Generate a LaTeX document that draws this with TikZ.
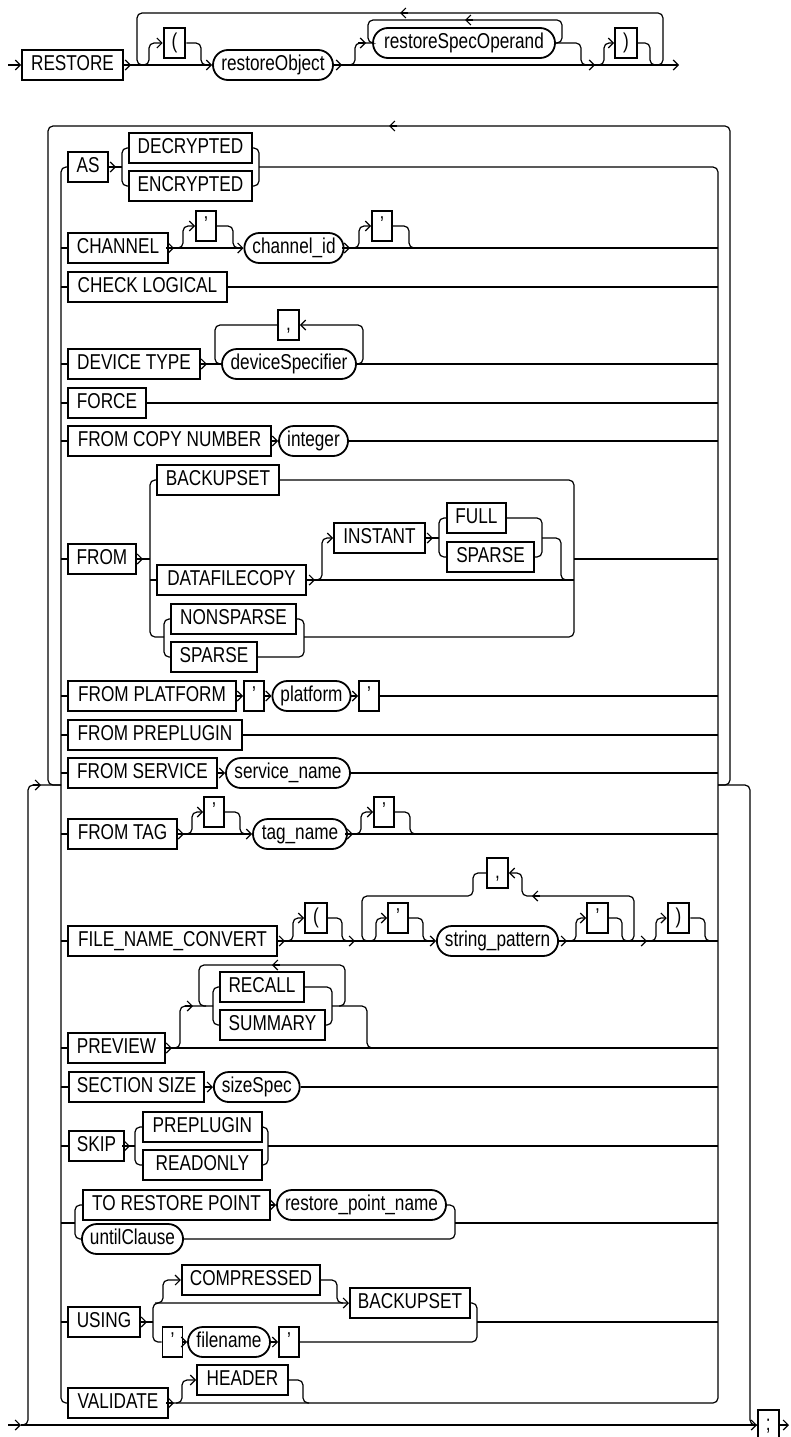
\documentclass[tikz,border=0pt]{standalone}
\usepackage{fontspec}
\setmainfont{Liberation Sans}[FakeStretch=0.8]
\usetikzlibrary{arrows.meta}
\newcommand\chR[2]{\draw[ln,->] (#1-8,#2) -- (#1,#2);}
\newcommand\chL[2]{\draw[ln,->] (#1+8,#2) -- (#1,#2);}
\begin{document}
\begin{tikzpicture}[x=1pt,y=-1pt,
  ln/.style={line width=1.2pt,rounded corners=5pt},
  >={Straight Barb[length=5pt,width=10pt]},
  kw/.style={draw,line width=1.8pt,minimum height=30pt,inner xsep=8pt,inner ysep=0pt,
     font=\fontsize{21.5}{22}\selectfont,text height=15pt,text depth=4pt},
  ident/.style={kw,rounded corners=15pt}]
\fill[white] (0,0) rectangle (790,1437);
\useasboundingbox (0,0) rectangle (790,1437);

% ---------------- row 0 ----------------
\node[kw,minimum width=101pt] (restore) at (72.5,65) {RESTORE};
\node[kw,minimum width=21pt] (lp0) at (174.5,43) {(};
\node[ident,minimum width=120pt] (robj) at (273,65) {restoreObject};
\node[ident,minimum width=182pt] (rso) at (464,43) {restoreSpecOperand};
\node[kw,minimum width=22pt] (rp0) at (626,43) {)};
\coordinate (in0) at (8,65);
\coordinate (out0) at (679,65);
\draw[ln,->] (in0) -- (restore.west);
\draw[ln,->] (restore.east) -- (robj.west);
\chR{131}{65}
\draw[ln,->] (robj.east) -- (out0);
\chR{342}{65}
\chR{595}{65}
\draw[ln,->] (139,65) -| (149,43) -- (lp0.west);
\draw[ln] (lp0.east) -| (201,65) -- (207,65);
\draw[ln] (651,65) -| (663,13) -| (137,65) -- (144,65);
\chL{400}{13}
\draw[ln] (345,65) -| (355,43) -- (rso.west);
\chR{366}{43}
\draw[ln] (rso.east) -| (562,20) -| (368,43) -- (rso.west);
\chL{465}{20}
\draw[ln] (rso.east) -| (581,65) -- (588,65);
\draw[ln,->] (597,65) -| (604,43) -- (rp0.west);
\draw[ln] (rp0.east) -| (650,65) -- (656,65);

% ---------------- options block ----------------
\node[kw,minimum width=40pt] (as) at (88,167) {AS};
\node[kw,minimum width=123pt] (decr) at (190.5,148) {DECRYPTED};
\node[kw,minimum width=123pt] (encr) at (190.5,186) {ENCRYPTED};
\node[kw,minimum width=100pt] (valid) at (118,1403) {VALIDATE};
\node[kw,anchor=west] (semi) at (757,1425) {;};

% rails
\draw[ln] (as.west) -| (61,1403) -- (valid.west);
\draw[ln] (259,167) -| (718,1403) -- (valid.east);
% big loop
\draw[ln] (718,785) -| (730,126) -| (48,785) -- (61,785);
\chL{389}{126}
% entry / exit
\coordinate (in1) at (8,1425);
\coordinate (out1) at (789,1425);
\draw[ln,->] (in1) -- (21,1425);
\draw[ln,->] (21,1425) -- (semi.west);
\draw[ln] (21,1425) -| (28,785) -- (61,785);
\chR{41}{785}
\draw[ln] (718,785) -| (750,1425) -- (semi.west);
\draw[ln,->] (semi.east) -- (out1);

% AS
\draw[ln] (as.east) -- (122,167);
\chR{116}{167}
\draw[ln] (decr.west) -| (122,186) -- (encr.west);
\draw[ln] (decr.east) -| (259,186) -- (encr.east);

% CHANNEL
\node[kw,minimum width=100pt] (chan) at (118,248) {CHANNEL};
\node[kw,minimum width=20pt] (q1) at (206,226) {'};
\node[ident,minimum width=98pt] (chid) at (294,248) {channel\_id};
\node[kw,minimum width=20pt] (q2) at (382,226) {'};
\draw[ln] (61,248) -- (chan.west);
\draw[ln,->] (chan.east) -- (chid.west);
\chR{174}{248}
\draw[ln,->] (176,248) -| (183,226) -- (q1.west);
\draw[ln] (q1.east) -| (233,248) -- (239,248);
\draw[ln] (chid.east) -- (718,248);
\chR{350}{248}
\draw[ln,->] (352,248) -| (359,226) -- (q2.west);
\draw[ln] (q2.east) -| (409,248) -- (415,248);

% CHECK LOGICAL
\node[kw,minimum width=159pt] (chk) at (147.5,287) {CHECK LOGICAL};
\draw[ln] (61,287) -- (chk.west);
\draw[ln] (chk.east) -- (718,287);

% DEVICE TYPE
\node[kw,minimum width=132pt] (dev) at (134,364) {DEVICE TYPE};
\node[ident,minimum width=134pt] (dspec) at (289,364) {deviceSpecifier};
\node[kw,minimum width=21pt] (cm1) at (288.5,325) {,};
\draw[ln] (61,364) -- (dev.west);
\draw[ln] (dev.east) -- (dspec.west);
\chR{207}{364}
\draw[ln] (dspec.east) -- (718,364);
\draw[ln,->] (dspec.east) -| (363,325) -- (cm1.east);
\draw[ln] (cm1.west) -| (215,364) -- (dspec.west);

% FORCE
\node[kw,minimum width=78pt] (force) at (107,403) {FORCE};
\draw[ln] (61,403) -- (force.west);
\draw[ln] (force.east) -- (718,403);

% FROM COPY NUMBER
\node[kw,minimum width=203pt] (fcn) at (169.5,441) {FROM COPY NUMBER};
\node[ident,minimum width=69pt] (intg) at (313.5,441) {integer};
\draw[ln] (61,441) -- (fcn.west);
\draw[ln,->] (fcn.east) -- (intg.west);
\draw[ln] (intg.east) -- (718,441);

% FROM
\node[kw,minimum width=68pt] (from) at (102,559) {FROM};
\node[kw,minimum width=122pt] (bkup) at (218,480) {BACKUPSET};
\node[kw,minimum width=149pt] (dfc) at (231.5,580) {DATAFILECOPY};
\node[kw,minimum width=91pt] (inst) at (379.5,538) {INSTANT};
\node[kw,minimum width=59pt] (full) at (476.5,518) {FULL};
\node[kw,minimum width=87pt] (sp1) at (490.5,557) {SPARSE};
\node[kw,minimum width=125pt] (nsp) at (233.5,619) {NONSPARSE};
\node[kw,minimum width=86pt] (sp2) at (214,657) {SPARSE};
\draw[ln] (61,559) -- (from.west);
\draw[ln] (from.east) -- (150,559);
\chR{143}{559}
\draw[ln] (bkup.west) -| (150,637) -- (164,637);
\draw[ln] (bkup.east) -| (574,637) -- (304,637);
\draw[ln] (150,580) -- (dfc.west);
\draw[ln] (dfc.east) -- (574,580);
\chR{315}{580}
\draw[ln,->] (317,580) -| (322,538) -- (inst.west);
\draw[ln] (inst.east) -- (439,538);
\chR{433}{538}
\draw[ln] (full.west) -| (439,557) -- (sp1.west);
\draw[ln] (full.east) -| (542,557) -- (sp1.east);
\draw[ln] (542,538) -| (561,580) -- (568,580);
\draw[ln] (nsp.west) -| (164,657) -- (sp2.west);
\draw[ln] (nsp.east) -| (304,657) -- (sp2.east);
\draw[ln] (574,559) -- (718,559);

% FROM PLATFORM
\node[kw,minimum width=168pt] (fplat) at (152,696) {FROM PLATFORM};
\node[kw,minimum width=20pt] (q3) at (254,696) {'};
\node[ident,minimum width=77pt] (plat) at (311.5,696) {platform};
\node[kw,minimum width=20pt] (q4) at (369,696) {'};
\draw[ln] (61,696) -- (fplat.west);
\draw[ln,->] (fplat.east) -- (q3.west);
\draw[ln,->] (q3.east) -- (plat.west);
\draw[ln,->] (plat.east) -- (q4.west);
\draw[ln] (q4.east) -- (718,696);

% FROM PREPLUGIN
\node[kw,minimum width=174pt] (fpre) at (155,735) {FROM PREPLUGIN};
\draw[ln] (61,735) -- (fpre.west);
\draw[ln] (fpre.east) -- (718,735);

% FROM SERVICE
\node[kw,minimum width=149pt] (fserv) at (142.5,773) {FROM SERVICE};
\node[ident,minimum width=124pt] (sname) at (288,773) {service\_name};
\draw[ln] (61,773) -- (fserv.west);
\draw[ln,->] (fserv.east) -- (sname.west);
\draw[ln] (sname.east) -- (718,773);

% FROM TAG
\node[kw,minimum width=109pt] (ftag) at (122.5,834) {FROM TAG};
\node[kw,minimum width=20pt] (q5) at (214,812) {'};
\node[ident,minimum width=94pt] (tname) at (300,834) {tag\_name};
\node[kw,minimum width=20pt] (q6) at (384,812) {'};
\draw[ln] (61,834) -- (ftag.west);
\draw[ln,->] (ftag.east) -- (tname.west);
\chR{184}{834}
\draw[ln,->] (186,834) -| (192,812) -- (q5.west);
\draw[ln] (q5.east) -| (240,834) -- (246,834);
\draw[ln] (tname.east) -- (718,834);
\chR{353}{834}
\draw[ln,->] (355,834) -| (361,812) -- (q6.west);
\draw[ln] (q6.east) -| (410,834) -- (416,834);

% FILE_NAME_CONVERT
\node[kw,minimum width=209pt] (fnc) at (172.5,941) {FILE\_NAME\_CONVERT};
\node[kw,minimum width=22pt] (lp1) at (316,918) {(};
\node[kw,minimum width=21pt] (cm2) at (497.5,873) {,};
\node[kw,minimum width=20pt] (q7) at (398,918) {'};
\node[ident,minimum width=121pt] (spat) at (497.5,941) {string\_pattern};
\node[kw,minimum width=21pt] (q8) at (597.5,918) {'};
\node[kw,minimum width=21pt] (rp1) at (678.5,918) {)};
\draw[ln] (61,941) -- (fnc.west);
\draw[ln,->] (fnc.east) -- (spat.west);
\chR{285}{941}
\chR{355}{941}
\draw[ln,->] (287,941) -| (293,918) -- (lp1.west);
\draw[ln] (lp1.east) -| (342,941) -- (348,941);
\draw[ln,->] (626,941) -| (634,896) -| (522,873) -- (cm2.east);
\chL{532}{896}
\draw[ln] (cm2.west) -| (473,896) -| (362,941) -- (370,941);
\draw[ln,->] (368,941) -| (376,918) -- (q7.west);
\draw[ln] (q7.east) -| (423,941) -- (430,941);
\draw[ln] (spat.east) -- (718,941);
\chR{567}{941}
\chR{647}{941}
\draw[ln,->] (569,941) -| (576,918) -- (q8.west);
\draw[ln] (q8.east) -| (622,941) -- (628,941);
\draw[ln,->] (649,941) -| (656,918) -- (rp1.west);
\draw[ln] (rp1.east) -| (705,941) -- (711,941);

% PREVIEW
\node[kw,minimum width=97pt] (prev) at (116.5,1048) {PREVIEW};
\node[kw,minimum width=84pt] (recall) at (262,987) {RECALL};
\node[kw,minimum width=105pt] (summ) at (272.5,1025) {SUMMARY};
\draw[ln] (61,1048) -- (prev.west);
\draw[ln] (prev.east) -- (718,1048);
\chR{172}{1048}
\draw[ln] (174,1048) -| (180,1006) -- (213,1006);
\chR{193}{1006}
\draw[ln] (recall.west) -| (213,1025) -- (summ.west);
\draw[ln] (recall.east) -| (332,1025) -- (summ.east);
\draw[ln] (332,1006) -| (367,1048) -- (374,1048);
\draw[ln] (339,1006) -| (345,965) -| (199,1006) -- (206,1006);
\chL{272}{965}

% SECTION SIZE
\node[kw,anchor=west] (secsz) at (68,1087) {SECTION SIZE};
\node[ident,anchor=west] (sizesp) at (213,1087) {sizeSpec};
\draw[ln] (61,1087) -- (secsz.west);
\draw[ln,->] (secsz.east) -- (sizesp.west);
\draw[ln] (sizesp.east) -- (718,1087);

% SKIP
\node[kw,anchor=west] (skip) at (68,1146) {SKIP};
\node[kw,anchor=west,minimum width=119pt] (pplug) at (142,1127) {PREPLUGIN};
\node[kw,anchor=west,minimum width=119pt] (ronly) at (142,1165) {READONLY};
\draw[ln] (61,1146) -- (skip.west);
\draw[ln] (skip.east) -- (135,1146);
\chR{130}{1146}
\draw[ln] (pplug.west) -| (135,1165) -- (ronly.west);
\draw[ln] (pplug.east) -| (268,1165) -- (ronly.east);
\draw[ln] (268,1146) -- (718,1146);

% TO RESTORE POINT
\node[kw,minimum width=187pt] (trp) at (176.5,1205) {TO RESTORE POINT};
\node[ident,minimum width=167pt] (rpn) at (361.5,1205) {restore\_point\_name};
\node[ident,minimum width=101pt] (until) at (132.5,1239) {untilClause};
\draw[ln] (61,1223) -- (75,1223);
\draw[ln] (trp.west) -| (75,1239) -- (until.west);
\draw[ln,->] (trp.east) -- (rpn.west);
\draw[ln] (rpn.east) -| (455,1239) -- (until.east);
\draw[ln] (455,1223) -- (718,1223);

% USING
\node[kw,minimum width=72pt] (using) at (104,1322) {USING};
\node[kw,minimum width=138pt] (comp) at (251,1280) {COMPRESSED};
\node[kw,minimum width=120pt] (bk2) at (410,1303) {BACKUPSET};
\node[kw,minimum width=19pt] (q9) at (172.5,1342) {'};
\node[ident,minimum width=82pt] (fname) at (229,1342) {filename};
\node[kw,minimum width=18pt] (q10) at (289,1342) {'};
\draw[ln] (61,1322) -- (using.west);
\draw[ln] (using.east) -- (153,1322);
\chR{147}{1322}
\draw[ln,->] (153,1322) |- (bk2.west);
\draw[ln] (153,1322) |- (q9.west);
\draw[ln,->] (155,1303) -| (163,1280) -- (comp.west);
\draw[ln] (comp.east) -| (337,1303) -- (343,1303);
\draw[ln,->] (q9.east) -- (fname.west);
\draw[ln,->] (fname.east) -- (q10.west);
\draw[ln] (bk2.east) -| (477,1342) -- (q10.east);
\draw[ln] (477,1322) -- (718,1322);

% VALIDATE
\node[kw,minimum width=91pt] (header) at (242.5,1380) {HEADER};
\chR{174}{1403}
\draw[ln,->] (176,1403) -| (182,1380) -- (header.west);
\draw[ln] (header.east) -| (303,1403) -- (309,1403);
\end{tikzpicture}
\end{document}
